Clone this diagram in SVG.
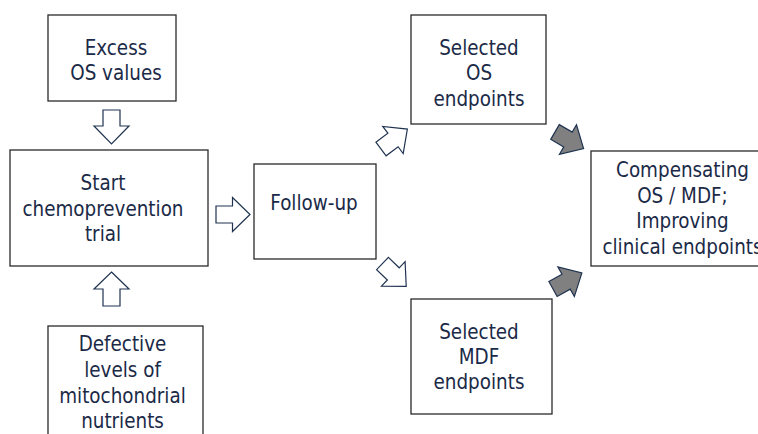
<svg xmlns="http://www.w3.org/2000/svg" width="758" height="434" viewBox="0 0 758 434">
<defs>
<style>
.box{fill:#ffffff;stroke:#2a2a2a;stroke-width:1.3}
.t{font-family:'DejaVu Sans Condensed','DejaVu Sans',sans-serif;font-stretch:condensed;font-size:20.4px;fill:#1b2a47;text-anchor:middle}
.wa{fill:#ffffff;stroke:#1f3350;stroke-width:1.2;stroke-linejoin:miter}
.ga{fill:#808080;stroke:#1f3350;stroke-width:1.2;stroke-linejoin:miter}
</style>
<polygon id="diag" points="0,-8.5 15,-8.5 15,-17 33,0 15,17 15,8.5 0,8.5"/>
</defs>
<rect width="758" height="434" fill="#ffffff"/>
<g id="connectors">
<polygon class="wa" points="103,110 120,110 120,126 129,126 111.5,144 94,126 103,126"/>
<polygon class="wa" points="111.5,272 129,289 120,289 120,306 103,306 103,289 94,289"/>
<polygon class="wa" points="216,206 232.5,206 232.5,197.5 250,214.5 232.5,231.5 232.5,223 216,223"/>
<use href="#diag" class="wa" transform="translate(381,149) rotate(-37)"/>
<use href="#diag" class="wa" transform="translate(382.5,263.5) rotate(44)"/>
<use href="#diag" class="ga" transform="translate(555,132) rotate(30)"/>
<use href="#diag" class="ga" transform="translate(553,289) rotate(-29)"/>
</g>
<g id="excess">
<rect class="box" x="48" y="15" width="128" height="86"/>
<text class="t" x="116" y="55">Excess</text>
<text class="t" x="116" y="80">OS values</text>
</g>
<g id="start">
<rect class="box" x="10" y="150" width="198" height="116"/>
<text class="t" x="103" y="190">Start</text>
<text class="t" x="103" y="216">chemoprevention</text>
<text class="t" x="103" y="241">trial</text>
</g>
<g id="defective">
<rect class="box" x="48" y="326" width="155" height="120"/>
<text class="t" x="122.5" y="351">Defective</text>
<text class="t" x="122.5" y="377">levels of</text>
<text class="t" x="122.5" y="403">mitochondrial</text>
<text class="t" x="122.5" y="428">nutrients</text>
</g>
<g id="followup">
<rect class="box" x="254" y="164" width="122" height="95"/>
<text class="t" x="314" y="210">Follow-up</text>
</g>
<g id="selected-os">
<rect class="box" x="411" y="15" width="135" height="109"/>
<text class="t" x="479" y="55">Selected</text>
<text class="t" x="479" y="80">OS</text>
<text class="t" x="479" y="106">endpoints</text>
</g>
<g id="selected-mdf">
<rect class="box" x="411" y="299" width="141" height="115"/>
<text class="t" x="479" y="339">Selected</text>
<text class="t" x="479" y="364">MDF</text>
<text class="t" x="479" y="389">endpoints</text>
</g>
<g id="compensating">
<rect class="box" x="591" y="151" width="185" height="115"/>
<text class="t" x="682.5" y="177">Compensating</text>
<text class="t" x="682.5" y="203">OS / MDF;</text>
<text class="t" x="682.5" y="228">Improving</text>
<text class="t" x="682.5" y="254">clinical endpoints</text>
</g>
</svg>
